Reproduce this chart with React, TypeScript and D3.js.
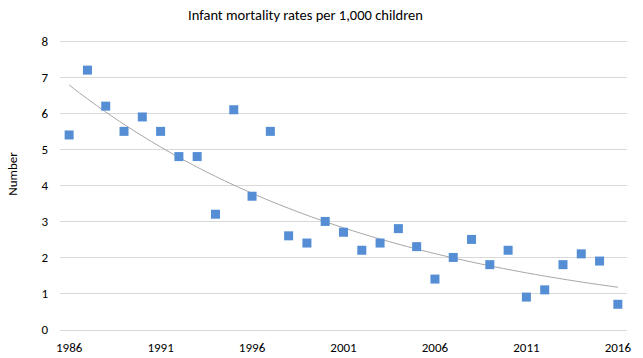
import * as d3 from "d3";

const years = d3.range(1986, 2017);
const rates = [
  5.4, 7.2, 6.2, 5.5, 5.9, 5.5, 4.8, 4.8, 3.2, 6.1, 3.7, 5.5, 2.6, 2.4, 3.0, 2.7,
  2.2, 2.4, 2.8, 2.3, 1.4, 2.0, 2.5, 1.8, 2.2, 0.9, 1.1, 1.8, 2.1, 1.9, 0.7,
];
const yTicks = [0, 1, 2, 3, 4, 5, 6, 7, 8];
const xTickYears = [1986, 1991, 1996, 2001, 2006, 2011, 2016];

const width = 643;
const height = 358;
const font = "Carlito, Calibri, 'Noto Sans', sans-serif";

// exponential trendline (least squares on ln y), like Excel's
function expFit(xs: number[], ys: number[]) {
  const ly = ys.map(Math.log);
  const mx = d3.mean(xs)!;
  const my = d3.mean(ly)!;
  const b =
    d3.sum(xs, (x, i) => (x - mx) * (ly[i] - my)) /
    d3.sum(xs, (x) => (x - mx) * (x - mx));
  const a = my - b * mx;
  return (x: number) => Math.exp(a + b * x);
}

export default function App() {
  const x = d3.scaleLinear().domain([1985.5, 2016.5]).range([60, 627]);
  const y = d3.scaleLinear().domain([0, 8]).range([329.5, 41.3]);

  const fit = expFit(years, rates);
  const trend = d3.range(1986, 2016.01, 0.25).map((t) => [t, fit(t)] as [number, number]);
  const line = d3
    .line<[number, number]>()
    .x((d) => x(d[0]))
    .y((d) => y(d[1]));

  const s = 9;

  return (
    <svg
      width={width}
      height={height}
      style={{ position: "absolute", left: 0, top: 0, background: "#fff" }}
    >
      <rect width={width} height={height} fill="#fff" />
      <text
        x={305.5}
        y={19.5}
        textAnchor="middle"
        fontFamily={font}
        fontSize={14.5}
        fill="#000"
      >
        Infant mortality rates per 1,000 children
      </text>
      <text
        transform={`translate(17,174) rotate(-90)`}
        textAnchor="middle"
        fontFamily={font}
        fontSize={13}
        fill="#000"
      >
        Number
      </text>
      {yTicks.map((t) => (
        <g key={t}>
          <line
            x1={60}
            x2={627}
            y1={Math.round(y(t)) + 0.5}
            y2={Math.round(y(t)) + 0.5}
            stroke="#d9d9d9"
            strokeWidth={1}
          />
          <text
            x={48}
            y={y(t)}
            dy="0.35em"
            textAnchor="end"
            fontFamily={font}
            fontSize={13}
            fill="#000"
          >
            {t}
          </text>
        </g>
      ))}
      {xTickYears.map((yr) => (
        <text
          key={yr}
          x={x(yr)}
          y={352}
          textAnchor="middle"
          fontFamily={font}
          fontSize={13}
          fill="#000"
        >
          {yr}
        </text>
      ))}
      <path d={line(trend)!} fill="none" stroke="#a6a6a6" strokeWidth={1} />
      {years.map((yr, i) => (
        <rect
          key={yr}
          x={x(yr) - s / 2}
          y={y(rates[i]) - s / 2}
          width={s}
          height={s}
          fill="#558ed5"
        />
      ))}
    </svg>
  );
}
